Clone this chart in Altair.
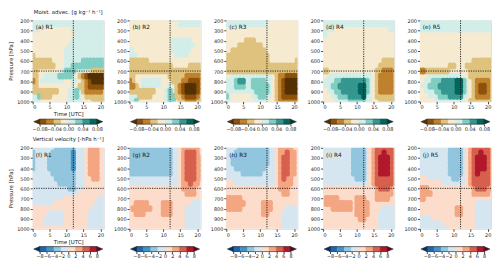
import altair as alt
import pandas as pd

FONT = "DejaVu Sans"

# ---------------- grid / axes ----------------
hours = list(range(22))                      # 0 .. 21 UTC
pressures = list(range(200, 1001, 50))       # 200 .. 1000 hPa
time_ticks = [0, 5, 10, 15, 20]
pressure_ticks = [200, 300, 400, 500, 600, 700, 800, 900, 1000]
split_time = 12
moist_split_p = 700
vv_split_p = 600

# ---------------- colour levels ----------------
moist_levels = [-0.08, -0.06, -0.04, -0.02, 0.0, 0.02, 0.04, 0.06, 0.08]
moist_colors = ["#543005", "#8c510a", "#bf812d", "#dfc27d", "#f6ebd1",
                "#d3ede9", "#80cdc1", "#35978f", "#01665e", "#003c30"]
moist_ticks = [-0.08, -0.04, 0.0, 0.04, 0.08]
vv_levels = [-8, -6, -4, -2, 0, 2, 4, 6, 8]
vv_colors = ["#053061", "#2166ac", "#4393c3", "#92c5de", "#d6e6f1",
             "#fcdcca", "#f4a582", "#d6604d", "#b2182b", "#67001f"]
vv_ticks = [-8, -6, -4, -2, 0, 2, 4, 6, 8]

moist_title = "Moist. advec. [g kg\u207b\u00b9 h\u207b\u00b9]"
vv_title = "Vertical velocity [-hPa h\u207b\u00b9]"
moist_labels = ["(a) R1", "(b) R2", "(c) R3", "(d) R4", "(e) R5"]
vv_labels = ["(f) R1", "(g) R2", "(h) R3", "(i) R4", "(j) R5"]

# Level-class, one string per pressure row (200..1000 hPa),
# one digit per hour (0..21).  digit k = k-th colour class of the level set.
moist_R1 = [
    "5555555555555555555555", "5555555555555555555555", "5554444444445555555555",
    "4444444444444555555555", "4444444444445555555555", "4444444444455555555555",
    "4444444444555555555555", "3444444444555555555555", "3333334444555556666666",
    "3333333444556666666666", "3344444445666555443333", "3344555566665432100000",
    "2345555555445543210000", "3344444444445433211111", "3333333344455653222223",
    "5563334444455654333333", "5554444444455554443333"]
moist_R2 = [
    "4444444444444555555555", "4444444444444445555555", "4444444444444444444444",
    "4444444444444444444444", "4444444444444555555444", "4444444444444555555544",
    "5544444444444555555444", "5554444444444455554444", "3333334444444444444444",
    "3333333333333444443333", "3333333333333333333333", "3344444444443333322222",
    "2344555555444333221112", "2234555555445432100012", "3333333344456532100012",
    "5553333444456633211123", "5564444444456643322233"]
moist_R3 = [
    "5555555555555444444444", "5555555555555444444444", "4444444444444444444444",
    "4444444444444444444444", "4444443334444444444444", "4444333333344444444444",
    "4433333333334444444444", "3333333333333444444444", "3333333333333444444443",
    "3333333333333333333333", "3333333333333333333333", "4455555555555543221111",
    "5556775566665543210000", "5556665566666543210000", "5555555556666543210000",
    "6544444455665543211111", "5544444445555443222222"]
moist_R4 = [
    "5555555555555555555555", "5555555555555555555555", "5555444444444444444455",
    "5544444444444444444444", "4444444444444444444444", "4444444444444444444444",
    "4444444444444444444444", "4444444444444444444444", "4444444444444444443333",
    "4444444444444444433333", "3344444444444444332223", "4455555555555554322223",
    "4555667777777654322223", "4556677777788654322223", "4455667777788654322223",
    "4445566677778554333333", "4444555566666554433333"]
moist_R5 = [
    "5555555555555555555555", "5555555555555555555555", "5555555555555555555555",
    "4444444444444444444444", "4444444444444444444444", "4444444444444444444444",
    "4444444444444444444444", "4444444444444444444444", "4444444444444444333333",
    "4444444443344433333333", "2233333334444443333333", "4445555555555443333333",
    "4455666777788654322223", "4556667777788654321123", "4455566777788654321123",
    "4445556667777554322223", "4444455555555543333333"]

vv_R1 = [
    "4444444333333444566655", "3444443333332444566655", "3444433333332444566655",
    "3444433333332444566655", "3444433333332444566655", "4444443333333444566655",
    "4444444333333444556655", "4444444433333444555555", "4444444444433444555555",
    "4444444444444455555555", "4444444444555555555544", "4444444555555555555444",
    "5555555555555555554444", "5555544444555555544444", "5555444444555555544444",
    "5555444444555555544444", "5555555555555555544444"]
vv_R2 = [
    "3333333333333445666665", "3333333333333445677765", "3333333333333445677766",
    "3333333333333445677766", "3333333333333445677766", "3333333333333445677766",
    "4444444444444445677766", "4444444444444445667665", "5555555555555555666655",
    "5555555555555555566655", "5555555555555555555555", "5566665555666555555444",
    "5666666555666555544444", "5566655555666555544444", "5555555555555555544444",
    "5555555555555555544444", "5555555555555555544444"]
vv_R3 = [
    "4444333333333445666655", "4443333333333445667665", "4433333333333445677665",
    "4433333333333445677665", "4443333333334445677665", "4444433333344445677665",
    "4444444444444445676655", "5554444444444445666655", "5555555555555555666555",
    "5555555555555555566555", "6666655555555555555555", "6666665555566655555555",
    "6666655555566655554444", "5555555555566555544444", "5555555555555555544444",
    "5555555555555555544444", "5555555555555555544444"]
vv_R4 = [
    "4444444443333456777776", "4444444443333456778776", "4444444443333456788876",
    "4444444443333456788876", "4444444443333456788876", "4444444443333456788876",
    "4444444444333456777776", "4444444444444456777776", "5555555555555555677765",
    "5555555555555555666665", "5666655555666555666655", "5666666665666655555555",
    "5556666665666655554444", "5555555555666655544444", "5555555555566555544444",
    "5555555555555555544444", "5555555555555555544444"]
vv_R5 = [
    "4444444443333456777776", "4444444443333456778776", "4444444443333456788876",
    "4444444443333456788876", "4444444443333456788876", "4444444443333456787776",
    "5554444444334456777776", "5555555444444456777776", "6665555555555555677766",
    "6666555555555555666665", "6655555555555555555555", "5555555555555555544444",
    "5555555555566555544444", "5555555555566555544444", "4444555555555555544444",
    "4444444555555555544444", "4444444445555555544444"]

moist_panels = [moist_R1, moist_R2, moist_R3, moist_R4, moist_R5]
vv_panels = [vv_R1, vv_R2, vv_R3, vv_R4, vv_R5]

# ---------------- layout constants ----------------
W, H = 72, 82
CB_H, CB_BAR, ARROW = 11, 5, 6
LBL = 5
TTL = 5.5
GROW = 0.9       # px each cell is widened so neighbouring cells merge
RADIUS = 2.2     # rounded cell corners soften the class boundaries


def grid_frame(rows, levels):
    step = levels[1] - levels[0]
    t_lo, t_hi = hours[0], hours[-1]
    p_lo, p_hi = pressures[0], pressures[-1]
    recs = []
    for p, row in zip(pressures, rows):
        assert len(row) == len(hours), (p, row, len(row))
        for h, ch in zip(hours, row):
            k = int(ch)
            recs.append({
                "t0": max(t_lo, h - 0.5), "t1": min(t_hi, h + 0.5),
                "p0": max(p_lo, p - 25), "p1": min(p_hi, p + 25),
                "v": round(levels[0] + (k - 0.5) * step, 6),
                "rank": abs(k - 4.5),
            })
    df = pd.DataFrame(recs)
    # weak classes first, strong cores drawn on top
    return df.sort_values("rank", kind="stable").reset_index(drop=True)


def panel(rows, levels, colors, label, split_p, first, title):
    df = grid_frame(rows, levels)
    cs = alt.Scale(type="threshold", domain=levels, range=colors)
    xs = alt.Scale(domain=[hours[0], hours[-1]], nice=False, zero=False)
    ys = alt.Scale(domain=[pressures[0], pressures[-1]], reverse=True,
                   nice=False, zero=False)
    common = dict(labelFontSize=LBL, titleFontSize=TTL, tickSize=2.5,
                  labelPadding=1, grid=False, domain=False, format="d",
                  labelColor="#222", titleColor="#222", tickColor="#444",
                  titleFontWeight="normal", labelFont=FONT, titleFont=FONT)
    xaxis = alt.Axis(values=time_ticks, title="Time [UTC]" if first else None,
                     titlePadding=2, **common)
    yaxis = alt.Axis(values=pressure_ticks,
                     title="Pressure [hPa]" if first else None,
                     titlePadding=3, **common)
    base = alt.Chart(df).mark_rect(
        clip=True, cornerRadius=RADIUS,
        xOffset=-GROW, x2Offset=GROW, yOffset=-GROW, y2Offset=GROW
    ).encode(
        x=alt.X("t0:Q", scale=xs, axis=xaxis), x2="t1:Q",
        y=alt.Y("p0:Q", scale=ys, axis=yaxis), y2="p1:Q",
        color=alt.Color("v:Q", scale=cs, legend=None),
    )
    vline = alt.Chart(pd.DataFrame({"t": [split_time]})).mark_rule(
        strokeDash=[1.2, 1.2], color="#111", strokeWidth=0.9
    ).encode(x=alt.X("t:Q", scale=xs, axis=xaxis))
    hline = alt.Chart(pd.DataFrame({"p": [split_p]})).mark_rule(
        strokeDash=[1.2, 1.2], color="#111", strokeWidth=0.9
    ).encode(y=alt.Y("p:Q", scale=ys, axis=yaxis))
    lab = alt.Chart(pd.DataFrame({"lab": [label]})).mark_text(
        align="left", baseline="top", fontSize=5.8, font=FONT, color="#111"
    ).encode(text="lab:N", x=alt.value(3), y=alt.value(4))
    layer = alt.layer(base, vline, hline, lab)
    if title:
        return layer.properties(
            width=W, height=H,
            title=alt.TitleParams(text=title, fontSize=TTL, fontWeight="normal",
                                  font=FONT, offset=3, anchor="middle",
                                  color="#222"))
    return layer.properties(width=W, height=H)


def colorbar(levels, colors, ticks, fmt):
    step = levels[1] - levels[0]
    cs = alt.Scale(type="threshold", domain=levels, range=colors)
    xs = alt.Scale(domain=[levels[0], levels[-1]], range=[ARROW + 1, W - ARROW - 1],
                   nice=False, zero=False)
    axis = alt.Axis(values=ticks, format=fmt, labelFontSize=LBL, tickSize=2,
                    labelPadding=0.5, domain=False, grid=False,
                    offset=-(CB_H - CB_BAR), title=None, labelOverlap=False,
                    labelFlush=False, labelColor="#222", tickColor="#444",
                    labelFont=FONT)
    bins = pd.DataFrame({"lo": levels[:-1], "hi": levels[1:],
                         "v": [round(a + step / 2, 6) for a in levels[:-1]]})
    bar = alt.Chart(bins).mark_rect(strokeWidth=0.4).encode(
        x=alt.X("lo:Q", scale=xs, axis=axis), x2="hi:Q",
        y=alt.value(0), y2=alt.value(CB_BAR),
        color=alt.Color("v:Q", scale=cs, legend=None),
        stroke=alt.Stroke("v:Q", scale=cs, legend=None))
    frame = alt.Chart(pd.DataFrame({"lo": [levels[0]], "hi": [levels[-1]]})).mark_rect(
        fillOpacity=0, stroke="#222", strokeWidth=0.6
    ).encode(x=alt.X("lo:Q", scale=xs, axis=axis), x2="hi:Q",
             y=alt.value(0), y2=alt.value(CB_BAR))
    left = alt.Chart(pd.DataFrame({"lo": [levels[0]],
                                   "v": [levels[0] - step / 2]})).mark_point(
        shape="M 1 -0.833 L -1 0 L 1 0.833 Z", size=ARROW * ARROW, filled=True,
        opacity=1, stroke="#222", strokeWidth=0.5, xOffset=-ARROW / 2
    ).encode(x=alt.X("lo:Q", scale=xs, axis=axis), y=alt.value(CB_BAR / 2),
             color=alt.Color("v:Q", scale=cs, legend=None))
    right = alt.Chart(pd.DataFrame({"lo": [levels[-1]],
                                    "v": [levels[-1] + step / 2]})).mark_point(
        shape="M -1 -0.833 L 1 0 L -1 0.833 Z", size=ARROW * ARROW, filled=True,
        opacity=1, stroke="#222", strokeWidth=0.5, xOffset=ARROW / 2
    ).encode(x=alt.X("lo:Q", scale=xs, axis=axis), y=alt.value(CB_BAR / 2),
             color=alt.Color("v:Q", scale=cs, legend=None))
    return alt.layer(bar, frame, left, right).properties(
        width=W, height=CB_H, view=alt.ViewBackground(stroke=None))


charts = []
for i, rows in enumerate(moist_panels):
    charts.append(panel(rows, moist_levels, moist_colors, moist_labels[i],
                        moist_split_p, i == 0, moist_title if i == 0 else None))
for i in range(5):
    charts.append(colorbar(moist_levels, moist_colors, moist_ticks, ".2f"))
for i, rows in enumerate(vv_panels):
    charts.append(panel(rows, vv_levels, vv_colors, vv_labels[i],
                        vv_split_p, i == 0, vv_title if i == 0 else None))
for i in range(5):
    charts.append(colorbar(vv_levels, vv_colors, vv_ticks, "d"))

chart = alt.concat(
    *charts, columns=5, spacing={"row": 18, "column": 26},
    bounds="flush", align="each"
).resolve_scale(
    color="independent", stroke="independent"
).properties(
    padding=0
).configure_view(
    stroke="#444", strokeWidth=0.8
).configure(font=FONT)

chart.save("out.html", embed_options={"renderer": "svg", "actions": False})
